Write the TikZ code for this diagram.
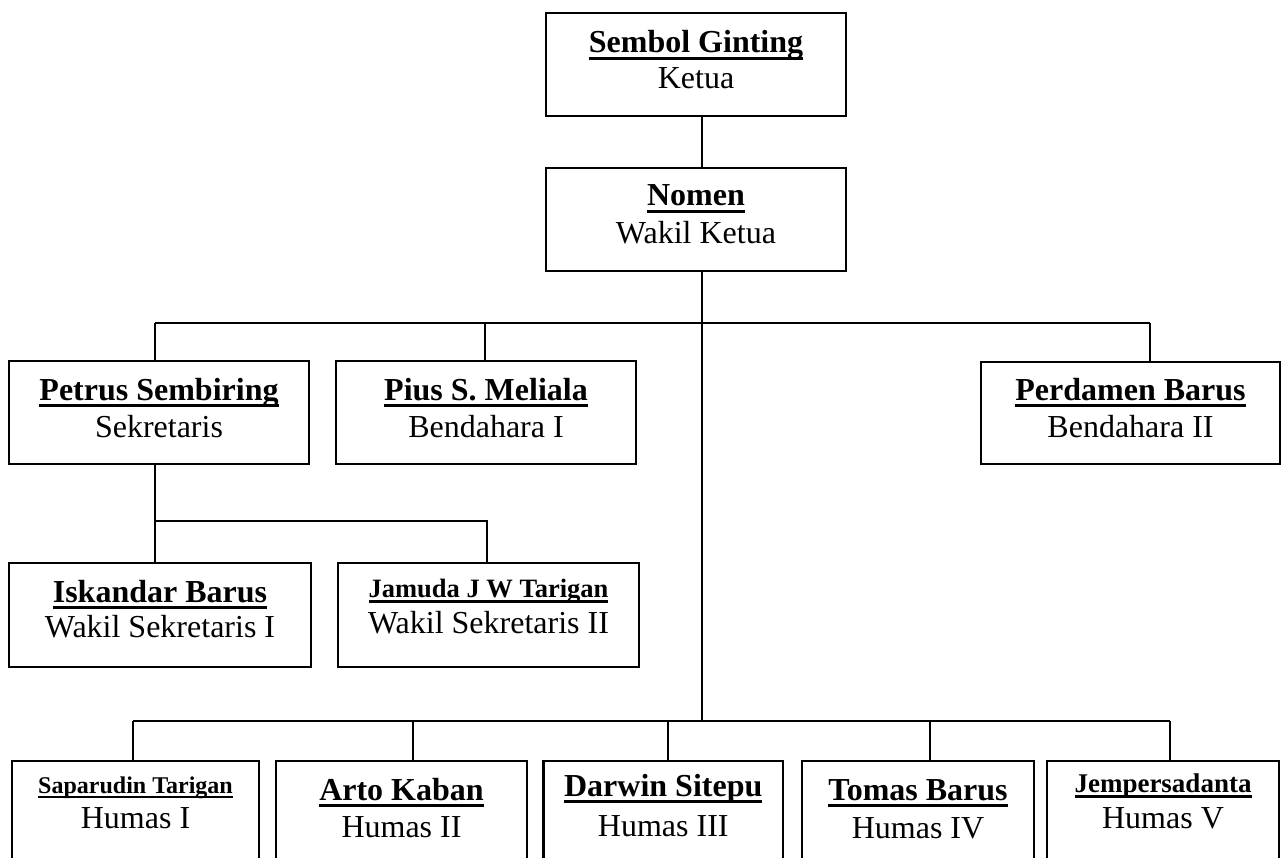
\documentclass[tikz,border=0pt]{standalone}
\usepackage{fontspec}
\setmainfont{Liberation Serif}
% bold name with a heavy underline drawn through the descenders
\newcommand\nameul[1]{\setbox0\hbox{#1}\rlap{\rule[-0.22em]{\wd0}{0.11em}}\box0}
\begin{document}
\begin{tikzpicture}[x=1pt,y=-1pt,
  box/.style={draw, line width=2.4pt, inner sep=0pt, minimum height=103pt},
  nm/.style={inner sep=0pt, anchor=base, font=\fontsize{32}{38}\selectfont\bfseries},
  nmsmall/.style={nm, font=\fontsize{#1}{30}\selectfont\bfseries},
  rl/.style={inner sep=0pt, anchor=base, font=\fontsize{32}{38}\selectfont},
  link/.style={line width=2pt}]
\useasboundingbox (0,0) rectangle (1284,858);
\clip (0,0) rectangle (1284,858);

% ---- boxes ----
\node[box, minimum width=300pt] (ketua) at (696,64.5) {};
\node[box, minimum width=300pt] (nomen) at (696,219.5) {};
\node[box, minimum width=300pt] (petrus) at (159,412.5) {};
\node[box, minimum width=300pt] (pius) at (486,412.5) {};
\node[box, minimum width=299pt, minimum height=102pt] (perdamen) at (1130.5,413) {};
\node[box, minimum width=302pt, minimum height=104pt] (iskandar) at (160,615) {};
\node[box, minimum width=301pt, minimum height=104pt] (jamuda) at (488.5,615) {};
\node[box, minimum width=247pt, minimum height=139pt] (saparudin) at (135.5,830.5) {};
\node[box, minimum width=251pt, minimum height=139pt] (arto) at (401.5,830.5) {};
\node[box, minimum width=239.5pt, minimum height=139pt] (darwin) at (663.25,830.5) {};
\node[box, minimum width=232pt, minimum height=139pt] (tomas) at (918,830.5) {};
\node[box, minimum width=232pt, minimum height=139pt] (jemper) at (1163,830.5) {};

% ---- texts ----
\node[nm] (ketuaN) at (696,53) {\nameul{Sembol Ginting}};
\node[rl] (ketuaR) at (696,89) {Ketua};
\node[nm] (nomenN) at (696,206) {\nameul{Nomen}};
\node[rl] (nomenR) at (696,244) {Wakil Ketua};
\node[nm] (petrusN) at (159,400) {\nameul{Petrus Sembiring}};
\node[rl] (petrusR) at (159,437) {Sekretaris};
\node[nm] (piusN) at (486,400) {\nameul{Pius S. Meliala}};
\node[rl] (piusR) at (486,437) {Bendahara I};
\node[nm] (perdamenN) at (1130.5,400) {\nameul{Perdamen Barus}};
\node[rl] (perdamenR) at (1130.5,437) {Bendahara II};
\node[nm] (iskandarN) at (160,602) {\nameul{Iskandar Barus}};
\node[rl] (iskandarR) at (160,637) {Wakil Sekretaris I};
\node[nmsmall=26.5] (jamudaN) at (488.5,597) {\nameul{Jamuda J W Tarigan}};
\node[rl] (jamudaR) at (488.5,633) {Wakil Sekretaris II};
\node[nmsmall=24] (saparudinN) at (135.5,793) {\nameul{Saparudin Tarigan}};
\node[rl] (saparudinR) at (135.5,828) {Humas I};
\node[nm] (artoN) at (401.5,800) {\nameul{Arto Kaban}};
\node[rl] (artoR) at (401.5,837) {Humas II};
\node[nm] (darwinN) at (663.25,796) {\nameul{Darwin Sitepu}};
\node[rl] (darwinR) at (663.25,836) {Humas III};
\node[nm] (tomasN) at (918,800) {\nameul{Tomas Barus}};
\node[rl] (tomasR) at (918,838) {Humas IV};
\node[nmsmall=27] (jemperN) at (1163,792) {\nameul{Jempersadanta}};
\node[rl] (jemperR) at (1163,828) {Humas V};

% ---- junction points ----
\coordinate (trunk) at (702,721);
\coordinate (t1) at (155,323);
\coordinate (t2) at (485,323);
\coordinate (t3) at (1150,323);
\coordinate (s1) at (155,521);
\coordinate (s2) at (487,521);
\coordinate (b1) at (133,721);
\coordinate (b2) at (413,721);
\coordinate (b3) at (668,721);
\coordinate (b4) at (930,721);
\coordinate (b5) at (1170,721);

% ---- connectors ----
\draw[link] (ketua.south -| trunk) -- (nomen.north -| trunk);
\draw[link] (nomen.south -| trunk) -- (trunk);
\draw[link] (t1) -- (t3);
\draw[link] (t1) -- (t1 |- petrus.north);
\draw[link] (t2) -- (t2 |- pius.north);
\draw[link] (t3) -- (t3 |- perdamen.north);
\draw[link] (petrus.south -| s1) -- (s1 |- iskandar.north);
\draw[link] (s1) -- (s2) -- (s2 |- jamuda.north);
\draw[link] (b1) -- (b5);
\draw[link] (b1) -- (b1 |- saparudin.north);
\draw[link] (b2) -- (b2 |- arto.north);
\draw[link] (b3) -- (b3 |- darwin.north);
\draw[link] (b4) -- (b4 |- tomas.north);
\draw[link] (b5) -- (b5 |- jemper.north);
\end{tikzpicture}
\end{document}
